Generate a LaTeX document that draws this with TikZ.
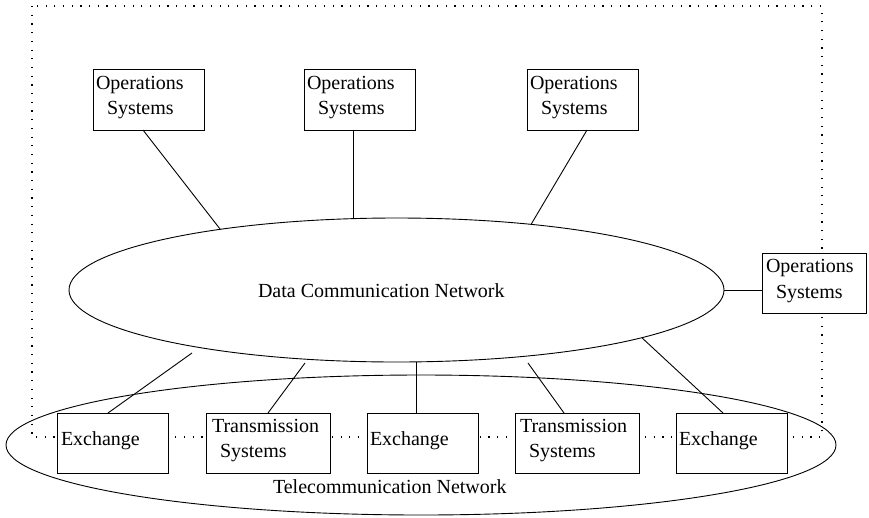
\documentclass[tikz,border=0pt]{standalone}
\usepackage{fontspec}
\setmainfont{Liberation Serif}
\usetikzlibrary{shapes.geometric,calc}
\begin{document}
\begin{tikzpicture}[x=1pt,y=-1pt,
  every node/.style={inner sep=0pt, outer sep=0pt},
  sysbox/.style={draw, line width=0.9pt, fill=white, anchor=north west, minimum height=61pt},
  lbl/.style={anchor=base west, font=\fontsize{20}{24}\selectfont},
  link/.style={line width=0.9pt},
  net/.style={draw, ellipse, line width=0.9pt}]
\useasboundingbox (0,0) rectangle (869,517);
\draw[line width=1.1pt, dash pattern=on 1.2pt off 7.5pt] (32,6) rectangle (822,437);
\node[net, minimum width=655pt, minimum height=144pt] (dcn) at (396.5,290) {};
\node[net, minimum width=830pt, minimum height=140pt] (tn) at (421,445) {};
% boxes
\node[sysbox, minimum width=111pt] (o1) at (93,69) {};
\node[sysbox, minimum width=111pt] (o2) at (304,69) {};
\node[sysbox, minimum width=111pt] (o3) at (527,69) {};
\node[sysbox, minimum width=104pt, minimum height=60pt] (o4) at (762,253) {};
\node[sysbox, minimum width=111pt, minimum height=60pt] (e1) at (57,413) {};
\node[sysbox, minimum width=124pt, minimum height=60pt] (t1) at (206,413) {};
\node[sysbox, minimum width=111pt, minimum height=60pt] (e2) at (367,413) {};
\node[sysbox, minimum width=124pt, minimum height=60pt] (t2) at (515,413) {};
\node[sysbox, minimum width=111pt, minimum height=60pt] (e3) at (676,413) {};
% labels
\node[lbl] (o1a) at ($(o1.north west)+(3,20)$) {Operations};
\node[lbl] (o1b) at ($(o1.north west)+(14,45)$) {Systems};
\node[lbl] (o2a) at ($(o2.north west)+(3,20)$) {Operations};
\node[lbl] (o2b) at ($(o2.north west)+(14,45)$) {Systems};
\node[lbl] (o3a) at ($(o3.north west)+(3,20)$) {Operations};
\node[lbl] (o3b) at ($(o3.north west)+(14,45)$) {Systems};
\node[lbl] (o4a) at ($(o4.north west)+(4,19)$) {Operations};
\node[lbl] (o4b) at ($(o4.north west)+(14,45)$) {Systems};
\node[lbl] (e1a) at ($(e1.north west)+(4,32)$) {Exchange};
\node[lbl] (e2a) at ($(e2.north west)+(3,32)$) {Exchange};
\node[lbl] (e3a) at ($(e3.north west)+(3,32)$) {Exchange};
\node[lbl] (t1a) at ($(t1.north west)+(6,19)$) {Transmission};
\node[lbl] (t1b) at ($(t1.north west)+(14,44)$) {Systems};
\node[lbl] (t2a) at ($(t2.north west)+(5,19)$) {Transmission};
\node[lbl] (t2b) at ($(t2.north west)+(14,44)$) {Systems};
\node[lbl] (dcnl) at (258,297) {Data Communication Network};
\node[lbl] (tnl) at (273,493) {Telecommunication Network};
% connectors
\draw[link] ($(o1.south)+(-5.5,0)$) -- (dcn.161);
\coordinate (o2s) at ($(o2.south)+(-6.5,0)$);
\draw[link] (o2s) -- (o2s |- dcn.north);
\draw[link] ($(o3.south)+(4.5,0)$) -- (dcn.26);
\draw[link] (dcn.east) -- (dcn.east -| o4.west);
\coordinate (d1) at (192,353);
\draw[link] (d1) -- ($(e1.north)+(-4.5,0)$);
\coordinate (d2) at (305,363);
\draw[link] (d2) -- (t1.north);
\coordinate (e2top) at ($(e2.north)+(-6.5,0)$);
\draw[link] (e2top |- dcn.south) -- (e2top);
\coordinate (d4) at (528,363);
\draw[link] (d4) -- ($(t2.north)+(-13,0)$);
\draw[link] (dcn.-11) -- ($(e3.north)+(-8.5,0)$);
\end{tikzpicture}
\end{document}
